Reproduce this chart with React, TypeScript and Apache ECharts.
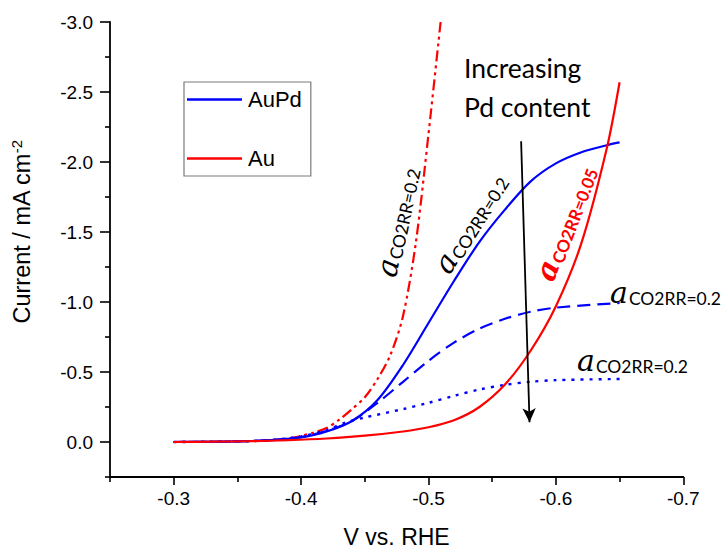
import React, { useEffect, useRef } from "react";
import * as echarts from "echarts";

// Potential (V vs. RHE) and current (mA cm^-2) for each curve
const auSolidV = [-0.3, -0.33, -0.36, -0.39, -0.42, -0.45, -0.48, -0.5, -0.52, -0.54, -0.56, -0.58, -0.6, -0.62, -0.64, -0.65];
const auSolidI = [0, -0.002, -0.006, -0.013, -0.025, -0.045, -0.075, -0.105, -0.155, -0.25, -0.41, -0.65, -0.97, -1.42, -2.1, -2.57];

const auDashDotV = [-0.3, -0.34, -0.37, -0.39, -0.4, -0.41, -0.42, -0.43, -0.44, -0.45, -0.46, -0.47, -0.48, -0.49, -0.5, -0.5095];
const auDashDotI = [0, -0.003, -0.01, -0.025, -0.044, -0.068, -0.1, -0.16, -0.235, -0.32, -0.45, -0.62, -0.9, -1.42, -2.2, -3.0];

const auPdSolidV = [-0.3, -0.32, -0.34, -0.36, -0.38, -0.4, -0.42, -0.44, -0.46, -0.48, -0.5, -0.52, -0.54, -0.56, -0.58, -0.6, -0.62, -0.64, -0.65];
const auPdSolidI = [0, -0.001, -0.003, -0.007, -0.015, -0.033, -0.075, -0.15, -0.3, -0.55, -0.85, -1.15, -1.43, -1.66, -1.86, -1.99, -2.07, -2.12, -2.14];

const auPdDashV = [-0.3, -0.34, -0.37, -0.4, -0.42, -0.44, -0.46, -0.48, -0.5, -0.52, -0.54, -0.56, -0.58, -0.6, -0.65];
const auPdDashI = [0, -0.003, -0.01, -0.035, -0.08, -0.15, -0.28, -0.43, -0.58, -0.71, -0.81, -0.88, -0.93, -0.96, -0.993];

const auPdDotV = [-0.3, -0.34, -0.37, -0.4, -0.42, -0.435, -0.45, -0.48, -0.5, -0.52, -0.54, -0.56, -0.58, -0.6, -0.65];
const auPdDotI = [0, -0.003, -0.01, -0.04, -0.085, -0.14, -0.175, -0.235, -0.28, -0.33, -0.375, -0.408, -0.43, -0.442, -0.45];

const arrowStart = [-0.5727, -2.148];
const arrowEnd = [-0.5793, -0.141];

const xMajor = [-0.7, -0.6, -0.5, -0.4, -0.3];
const xMinor = [-0.65, -0.55, -0.45, -0.35, -0.25];
const yMajor = [-3, -2.5, -2, -1.5, -1, -0.5, 0];
const yMinor = [-2.75, -2.25, -1.75, -1.25, -0.75, -0.25, 0.25];

const legendNames = ["AuPd", "Au"];

const zip = (xs: number[], ys: number[]) => xs.map((x, i) => [x, ys[i]]);

const SANS = "'Liberation Sans', Arial, sans-serif";
const BLUE = "#0000ff";
const RED = "#ff0000";

function alphaLabel(x: number, y: number, rotDeg: number, sub: string, color: string, bold: boolean, align: string = "center") {
  const w = bold ? "bold" : "normal";
  return {
    type: "text",
    x,
    y,
    rotation: (rotDeg * Math.PI) / 180,
    silent: true,
    style: {
      text: "{a|a}{s|" + sub + "}",
      align,
      verticalAlign: "middle",
      textAlign: align,
      textVerticalAlign: "middle",
      fill: color,
      rich: {
        a: { fontFamily: "'DejaVu Serif', serif", fontStyle: "italic", fontWeight: w, fontSize: 30, lineHeight: 30, fill: color, color },
        s: { fontFamily: "Lato, sans-serif", fontWeight: w, fontSize: bold ? 17 : 17.5, lineHeight: 17, verticalAlign: "bottom", fill: color, color, padding: [0, 0, 0, 1] },
      },
    },
  };
}

export default function App() {
  const ref = useRef<HTMLDivElement>(null);
  useEffect(() => {
    if (!ref.current) return;
    const chart = echarts.init(ref.current, undefined, { renderer: "svg" });
    const axisCommon = {
      type: "value",
      splitLine: { show: false },
    };
    const lineBase = { type: "line", showSymbol: false, symbol: "none", smooth: 0.3, silent: true };
    chart.setOption({
      animation: false,
      backgroundColor: "#ffffff",
      textStyle: { fontFamily: SANS },
      grid: { left: 110, width: 573.3, top: 22, height: 461.7, containLabel: false },
      legend: {
        data: legendNames,
        orient: "vertical",
        left: 184,
        top: 82,
        icon: "rect",
        itemWidth: 55,
        itemHeight: 2.6,
        itemGap: 36,
        padding: [6, 9, 6, 3],
        borderColor: "#7a7a7a",
        borderWidth: 1.2,
        selectedMode: false,
        textStyle: { fontFamily: SANS, fontSize: 22, lineHeight: 23, color: "#000", padding: [0, 0, 0, 1] },
      },
      xAxis: [
        {
          ...axisCommon,
          min: -0.7,
          max: -0.25,
          inverse: true,
          name: "V vs. RHE",
          nameLocation: "middle",
          nameGap: 48,
          nameTextStyle: { fontFamily: SANS, fontSize: 23, color: "#000" },
          axisLine: { show: true, onZero: false, lineStyle: { color: "#000", width: 1.8 } },
          axisTick: { show: true, length: 8, customValues: xMajor, lineStyle: { color: "#000", width: 1.6 } },
          axisLabel: { show: true, margin: 12, fontSize: 19, color: "#000", fontFamily: SANS, customValues: xMajor, formatter: (v: number) => v.toFixed(1) },
        },
        {
          ...axisCommon,
          min: -0.7,
          max: -0.25,
          inverse: true,
          position: "bottom",
          axisLine: { show: false, onZero: false },
          axisTick: { show: true, length: 5, customValues: xMinor, lineStyle: { color: "#000", width: 1.6 } },
          axisLabel: { show: false },
        },
      ],
      yAxis: [
        {
          ...axisCommon,
          min: -3,
          max: 0.25,
          inverse: true,
          axisLine: { show: true, onZero: false, lineStyle: { color: "#000", width: 1.8 } },
          axisTick: { show: true, length: 10, customValues: yMajor, lineStyle: { color: "#000", width: 1.6 } },
          axisLabel: { show: true, margin: 17, fontSize: 19, color: "#000", fontFamily: SANS, customValues: yMajor, formatter: (v: number) => v.toFixed(1) },
        },
        {
          ...axisCommon,
          min: -3,
          max: 0.25,
          inverse: true,
          position: "left",
          axisLine: { show: false, onZero: false },
          axisTick: { show: true, length: 5, customValues: yMinor, lineStyle: { color: "#000", width: 1.6 } },
          axisLabel: { show: false },
        },
      ],
      series: [
        {
          ...lineBase,
          name: "Au a=0.2",
          data: zip(auDashDotV, auDashDotI),
          lineStyle: { color: RED, width: 2.2, type: [11, 4, 3, 4, 3, 4] },
        },
        {
          ...lineBase,
          name: "AuPd dotted",
          data: zip(auPdDotV, auPdDotI),
          lineStyle: { color: BLUE, width: 2.4, type: [3, 6] },
        },
        {
          ...lineBase,
          name: "AuPd dashed",
          data: zip(auPdDashV, auPdDashI),
          lineStyle: { color: BLUE, width: 2.2, type: [13, 7] },
        },
        {
          ...lineBase,
          name: "AuPd",
          data: zip(auPdSolidV, auPdSolidI),
          itemStyle: { color: BLUE },
          lineStyle: { color: BLUE, width: 2.2 },
          markLine: {
            silent: true,
            symbol: ["none", "arrow"],
            symbolSize: [10, 14],
            label: { show: false },
            lineStyle: { color: "#000", width: 1.8, type: "solid" },
            emphasis: { disabled: true },
            data: [[{ coord: arrowStart }, { coord: arrowEnd }]],
          },
        },
        {
          ...lineBase,
          name: "Au",
          data: zip(auSolidV, auSolidI),
          itemStyle: { color: RED },
          lineStyle: { color: RED, width: 2.2 },
        },
      ],
      graphic: [
        {
          type: "text",
          x: 22,
          y: 232,
          rotation: Math.PI / 2,
          silent: true,
          style: {
            text: "{m|Current / mA cm}{p|-2}",
            align: "center",
            verticalAlign: "middle",
            textAlign: "center",
            textVerticalAlign: "middle",
            fill: "#000",
            rich: {
              m: { fontFamily: SANS, fontSize: 23.5, lineHeight: 26, fill: "#000", color: "#000" },
              p: { fontFamily: SANS, fontSize: 15, lineHeight: 15, verticalAlign: "top", fill: "#000", color: "#000" },
            },
          },
        },
        {
          type: "text",
          x: 464,
          y: 49,
          silent: true,
          style: {
            text: "Increasing\nPd content",
            font: "26.5px Lato, sans-serif",
            fontFamily: "Lato, sans-serif",
            fontSize: 26.5,
            lineHeight: 38.4,
            align: "left",
            verticalAlign: "top",
            textAlign: "left",
            textVerticalAlign: "top",
            fill: "#000",
          },
        },
        alphaLabel(397, 222, 78, "CO2RR=0.2", "#000", false),
        alphaLabel(470, 223, 58, "CO2RR=0.2", "#000", false),
        alphaLabel(565, 223, 69, "CO2RR=0.05", RED, true),
        alphaLabel(610, 292, 0, "CO2RR=0.2", "#000", false, "left"),
        alphaLabel(577, 360, 0, "CO2RR=0.2", "#000", false, "left"),
      ],
    });
    return () => chart.dispose();
  }, []);
  return <div ref={ref} style={{ position: "absolute", left: 0, top: 0, width: 722, height: 553 }} />;
}
